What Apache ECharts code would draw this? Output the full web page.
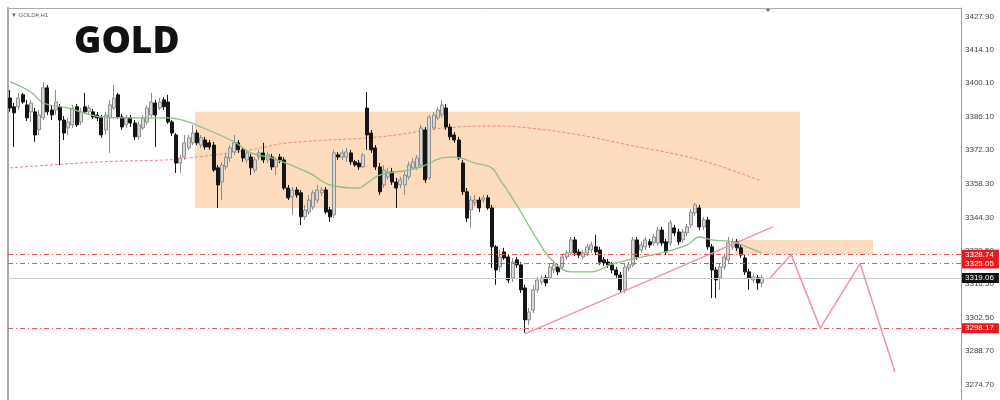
<!DOCTYPE html>
<html><head><meta charset="utf-8">
<script src="https://cdn.jsdelivr.net/npm/echarts@6/dist/echarts.min.js"></script>
<style>html,body{margin:0;padding:0;background:#fff}#c{width:1000px;height:400px}</style>
</head><body><div id="c"></div>
<script>
const symbolTitle = 'GOLD';
const chartTag = '\u25BC GOLD#,H1';
const tickLabels = ['3427.90','3414.10','3400.10','3386.10','3372.30','3358.30','3344.30','3330.50','3316.50','3302.50','3288.70','3274.70'];

const openVals = [3394.0,3390.3,3390.3,3395.3,3391.1,3388.2,3388.2,3380.7,3385.7,3398.2,3389.0,3389.0,3390.3,3384.8,3381.5,3382.8,3390.3,3384.0,3390.3,3388.2,
3388.2,3386.9,3385.7,3380.7,3385.7,3389.8,3395.3,3386.1,3382.8,3385.7,3383.6,3377.8,3381.5,3384.0,3386.9,3391.9,3389.8,3393.2,3392.3,3384.0,
3378.6,3366.9,3369.4,3373.2,3375.3,3379.4,3374.4,3376.5,3375.3,3374.4,3364.9,3359.0,3365.3,3369.0,3371.5,3375.3,3372.4,3368.2,3369.4,3364.0,
3369.4,3371.1,3368.2,3369.4,3365.3,3369.4,3368.2,3356.5,3352.8,3355.7,3354.5,3344.5,3346.5,3348.6,3351.5,3354.5,3355.7,3347.4,3345.3,3370.3,
3369.4,3369.4,3371.1,3367.4,3366.9,3365.3,3389.8,3379.4,3373.2,3365.3,3357.8,3361.1,3363.2,3359.0,3357.8,3357.8,3361.1,3364.9,3364.9,3366.1,
3380.7,3360.7,3381.5,3385.7,3386.9,3389.8,3381.9,3378.6,3376.5,3366.9,3354.9,3347.4,3350.3,3351.5,3351.5,3352.4,3348.2,3332.0,3323.6,3329.9,
3327.8,3319.1,3326.6,3324.5,3314.9,3301.6,3305.7,3314.1,3317.4,3319.1,3319.1,3322.4,3323.6,3323.6,3327.8,3329.5,3334.9,3329.9,3327.8,3329.5,
3330.7,3332.0,3330.7,3326.6,3325.7,3324.5,3322.4,3320.3,3314.1,3323.2,3324.5,3334.9,3330.7,3332.0,3334.1,3333.6,3333.6,3339.0,3334.1,3333.6,
3339.9,3338.2,3334.9,3337.8,3341.1,3346.1,3348.2,3340.3,3343.2,3332.0,3322.4,3319.1,3323.6,3326.6,3332.0,3334.1,3331.6,3327.4,3321.6,3318.2,
3319.1,3317.0];
const closeVals = [3389.8,3387.8,3394.0,3392.3,3385.7,3391.9,3378.6,3386.9,3398.2,3388.2,3386.9,3392.3,3384.8,3379.4,3384.0,3389.8,3382.8,3388.2,3388.2,3389.8,
3386.1,3385.7,3378.6,3386.9,3391.1,3394.0,3386.1,3381.9,3385.7,3383.6,3377.8,3382.8,3385.7,3389.8,3392.3,3386.9,3392.3,3390.3,3384.0,3379.4,
3366.9,3369.0,3375.3,3377.4,3379.4,3375.3,3377.4,3373.6,3373.6,3364.0,3357.8,3366.1,3369.4,3373.2,3375.3,3372.4,3369.0,3371.1,3364.9,3368.2,
3371.1,3368.2,3370.3,3365.3,3368.2,3368.2,3356.5,3352.4,3355.7,3353.6,3344.5,3347.4,3351.5,3354.5,3355.7,3355.7,3346.5,3344.5,3371.1,3369.4,
3371.1,3371.5,3367.4,3366.1,3365.3,3370.3,3378.6,3372.4,3365.3,3354.9,3364.0,3363.2,3359.0,3356.5,3359.9,3361.9,3366.1,3367.4,3369.0,3381.5,
3359.9,3386.1,3386.9,3389.0,3391.1,3381.9,3377.8,3376.5,3369.0,3354.9,3344.0,3351.5,3351.5,3348.2,3352.4,3348.2,3332.0,3322.4,3327.8,3327.4,
3318.2,3325.7,3324.5,3314.1,3301.6,3304.9,3314.1,3318.2,3319.1,3317.0,3323.6,3324.5,3321.6,3327.8,3329.5,3334.9,3329.5,3328.6,3329.5,3332.0,
3332.8,3329.9,3325.7,3325.3,3324.5,3322.4,3320.3,3314.1,3323.6,3324.5,3334.9,3327.8,3332.8,3334.9,3332.8,3336.1,3339.0,3333.6,3329.9,3342.0,
3337.8,3334.1,3338.2,3340.3,3346.5,3349.5,3340.3,3343.2,3332.0,3322.4,3318.2,3323.6,3327.8,3333.6,3334.1,3331.6,3328.6,3321.6,3319.1,3319.5,
3317.0,3319.1];
const lowVals = [3388.2,3373.6,3389.0,3391.5,3384.4,3384.0,3375.7,3378.6,3384.8,3386.9,3384.8,3386.9,3366.1,3376.5,3378.6,3381.5,3381.9,3382.8,3387.3,3386.9,
3385.3,3384.4,3377.4,3378.6,3371.1,3389.0,3385.3,3380.7,3381.5,3381.9,3376.5,3376.5,3380.7,3382.8,3386.1,3373.6,3389.0,3389.0,3383.2,3378.2,
3362.8,3362.8,3368.2,3372.4,3374.4,3374.4,3373.2,3372.4,3372.4,3363.2,3348.2,3351.5,3364.0,3367.4,3370.3,3371.1,3367.4,3366.9,3361.9,3362.8,
3368.2,3366.9,3366.9,3364.0,3361.9,3366.9,3355.7,3351.5,3345.3,3352.4,3341.1,3343.2,3345.3,3347.4,3350.3,3353.2,3345.7,3342.4,3344.0,3368.2,
3368.2,3367.4,3366.1,3365.3,3364.0,3364.9,3372.4,3371.1,3364.0,3353.6,3356.5,3359.9,3357.8,3348.2,3356.5,3353.6,3359.9,3364.0,3364.0,3364.9,
3358.6,3359.9,3380.7,3384.8,3385.7,3380.7,3376.5,3375.3,3368.2,3353.6,3342.4,3339.9,3349.0,3346.5,3350.3,3347.4,3323.2,3316.2,3321.6,3326.6,
3317.0,3317.4,3323.2,3312.8,3296.2,3299.5,3304.5,3312.8,3316.2,3315.7,3318.2,3321.1,3320.3,3322.4,3326.6,3328.6,3328.2,3327.4,3326.6,3328.2,
3329.5,3328.6,3324.5,3324.1,3323.2,3321.1,3319.1,3312.8,3312.8,3322.0,3323.6,3326.6,3329.5,3330.7,3331.6,3332.4,3332.4,3332.4,3328.6,3332.4,
3336.5,3332.8,3333.6,3336.5,3339.9,3344.9,3339.0,3339.0,3330.7,3310.7,3310.7,3314.1,3322.4,3325.3,3330.7,3330.3,3327.4,3320.3,3314.1,3317.0,
3314.1,3315.3];
const highVals = [3397.3,3391.9,3396.1,3396.1,3393.2,3393.2,3389.8,3389.0,3400.7,3399.4,3391.1,3397.3,3391.5,3386.5,3385.7,3391.1,3391.5,3389.8,3396.1,3391.1,
3389.4,3388.2,3386.9,3388.2,3393.2,3399.4,3396.1,3387.3,3386.9,3386.9,3384.8,3384.0,3386.9,3391.1,3396.1,3393.2,3394.0,3394.4,3395.3,3384.8,
3379.4,3370.3,3378.6,3378.6,3382.8,3380.7,3378.6,3377.8,3376.5,3375.7,3366.1,3367.4,3371.1,3374.4,3378.6,3376.5,3373.6,3372.4,3370.7,3369.4,
3372.4,3375.3,3371.5,3370.7,3369.4,3370.7,3369.4,3357.8,3356.9,3356.9,3355.7,3349.5,3353.6,3355.7,3357.8,3356.9,3356.9,3348.6,3372.4,3371.5,
3372.4,3373.2,3372.4,3368.2,3368.2,3371.1,3396.5,3380.7,3374.4,3366.9,3366.1,3364.9,3364.9,3360.7,3361.1,3363.2,3367.4,3369.0,3370.3,3382.8,
3381.9,3386.9,3388.2,3390.3,3393.2,3391.5,3383.2,3379.8,3377.8,3368.2,3356.5,3353.2,3353.6,3352.8,3353.6,3353.6,3349.5,3332.8,3330.7,3331.6,
3329.1,3327.4,3327.8,3325.7,3316.2,3306.6,3316.2,3319.5,3320.3,3320.3,3324.9,3325.7,3324.9,3329.1,3330.7,3336.1,3336.1,3331.1,3330.7,3333.2,
3334.1,3337.0,3332.0,3327.8,3327.0,3325.7,3323.6,3321.6,3324.9,3325.7,3336.1,3336.1,3334.1,3336.1,3335.3,3337.4,3340.3,3340.3,3335.3,3343.2,
3341.1,3339.5,3339.5,3341.5,3347.8,3350.3,3349.5,3344.5,3344.5,3333.2,3323.6,3324.9,3329.1,3336.1,3335.3,3335.3,3332.8,3328.6,3322.8,3320.7,
3320.3,3320.3];

const maFastIdx = [1,6,9,15,23,31,39,44,47,55,59,64,73,78,85,87,90,97,100,105,108,113,117,119,121,124,128,131,136,141,146,151,158,164,167,170,175,179,182];
const maFastVal = [3400.7,3396.5,3391.9,3389.8,3386.1,3385.7,3385.7,3384.0,3381.9,3375.7,3371.1,3369.0,3362.8,3357.8,3356.5,3358.6,3361.9,3364.0,3365.3,3369.0,
3369.4,3366.9,3364.9,3359.9,3354.9,3346.5,3334.9,3327.4,3321.6,3321.6,3324.9,3327.0,3329.5,3332.8,3336.1,3334.9,3334.1,3331.6,3329.5];
const maSlowIdx = [1,23,39,44,59,68,90,106,118,126,138,150,167,182];
const maSlowVal = [3364.9,3367.4,3368.2,3369.0,3372.4,3375.3,3377.8,3381.5,3382.3,3381.5,3378.6,3374.4,3368.2,3359.4];

const zoneFrom = [45.5, 175.6];
const zoneTo = [191.2, 208.8];
const zoneHigh = [3388.2, 3334.9];
const zoneLow = [3348.2, 3329.0];

const trendIdx = [125.0, 184.7];
const trendVal = [3295.8, 3340.3];
const projIdx = [184.0, 189.1, 196.1, 205.7, 214.1];
const projVal = [3319.06, 3328.74, 3298.17, 3325.05, 3279.9];

const levelValues = [3328.74, 3325.05, 3319.06, 3298.17];
const levelLabels = ['3328.74', '3325.05', '3319.06', '3298.17'];
const levelKinds = ['level', 'level', 'bid', 'level'];

const yMin = 3268.25, yMax = 3431.44;
const xMin = 0.5, xMax = 230;

const tickValues = tickLabels.map(Number);
const candles = openVals.map((o, i) => [i + 1, o, closeVals[i], lowVals[i], highVals[i]]);
const pairs = (a, b) => a.map((v, i) => [v, b[i]]);

const levelLines = levelValues.map((v, i) => {
  const bid = levelKinds[i] === 'bid';
  return {
    yAxis: v,
    lineStyle: bid ? {color: '#c9c9c9', width: 1, type: 'solid'} : {color: '#e55458', width: 1, type: [5, 3, 1, 3]},
    label: {
      show: true, position: 'end', distance: 1, formatter: levelLabels[i],
      color: '#fff', fontSize: 8, fontFamily: 'Liberation Sans, Arial, sans-serif',
      backgroundColor: bid ? '#111' : '#e8181c', padding: [1, 5, 1, 3]
    }
  };
});

const zones = zoneFrom.map((f, i) => [
  {coord: [f, zoneHigh[i]], itemStyle: {color: '#fcdcbc', opacity: 1}},
  {coord: [zoneTo[i], zoneLow[i]]}
]);

const chart = echarts.init(document.getElementById('c'), null, {renderer: 'canvas'});
chart.setOption({
  animation: false,
  backgroundColor: '#fff',
  title: [
    {text: symbolTitle, left: 74, top: 24, padding: 0,
     textStyle: {fontSize: 37, fontWeight: 800, fontFamily: 'Open Sans', color: '#111', lineHeight: 37}},
    {text: chartTag, left: 11, top: 12, padding: 0,
     textStyle: {fontSize: 6, fontWeight: 'normal', fontFamily: 'Liberation Sans, Arial', color: '#666'}}
  ],
  grid: {left: 8, right: 39, top: 8, bottom: 0, containLabel: false},
  xAxis: {
    type: 'value', min: xMin, max: xMax, position: 'top',
    axisLine: {show: true, onZero: false, lineStyle: {color: '#aaa', width: 1}},
    axisTick: {show: false}, axisLabel: {show: false}, splitLine: {show: false}
  },
  yAxis: [{
    type: 'value', position: 'right', min: yMin, max: yMax,
    axisLine: {show: true, lineStyle: {color: '#9a9a9a', width: 1}},
    axisTick: {show: false},
    axisLabel: {customValues: tickValues, formatter: v => Number(v).toFixed(2), margin: 4,
                fontSize: 8, color: '#444', fontFamily: 'Liberation Sans, Arial, sans-serif'},
    splitLine: {show: false}
  }, {
    type: 'value', position: 'left', min: yMin, max: yMax,
    axisLine: {show: true, lineStyle: {color: '#a8a8a8', width: 2}},
    axisTick: {show: false}, axisLabel: {show: false}, splitLine: {show: false}
  }],
  series: [
    {type: 'line', name: 'zones', data: [], z: 1, silent: true,
     markArea: {silent: true, data: zones}},
    {type: 'line', name: 'MA slow', data: pairs(maSlowIdx, maSlowVal), smooth: 0.4, symbol: 'none', z: 2,
     lineStyle: {color: '#ec8484', width: 1, type: [3, 2]}},
    {type: 'candlestick', name: symbolTitle, data: candles, barWidth: 3.5, z: 3,
     itemStyle: {color: '#d8d8d8', color0: '#151515', borderColor: '#8e8e8e', borderColor0: '#151515', borderWidth: 1},
     markLine: {silent: true, symbol: ['none', 'none'], data: levelLines}},
    {type: 'line', name: 'MA fast', data: pairs(maFastIdx, maFastVal), smooth: 0.4, symbol: 'none', z: 4,
     lineStyle: {color: '#8cbf88', width: 1.3}},
    {type: 'line', name: 'trend', data: pairs(trendIdx, trendVal), symbol: 'none', z: 5,
     lineStyle: {color: '#ee93aa', width: 1.5}},
    {type: 'line', name: 'projection', data: pairs(projIdx, projVal), symbol: 'none', z: 5,
     lineStyle: {color: '#ee93aa', width: 1.5}}
  ],
  graphic: [{type: 'polygon', shape: {points: [[765, 8], [771, 8], [768, 12]]}, style: {fill: '#5d6f82'}, silent: true}]
});
</script></body></html>
